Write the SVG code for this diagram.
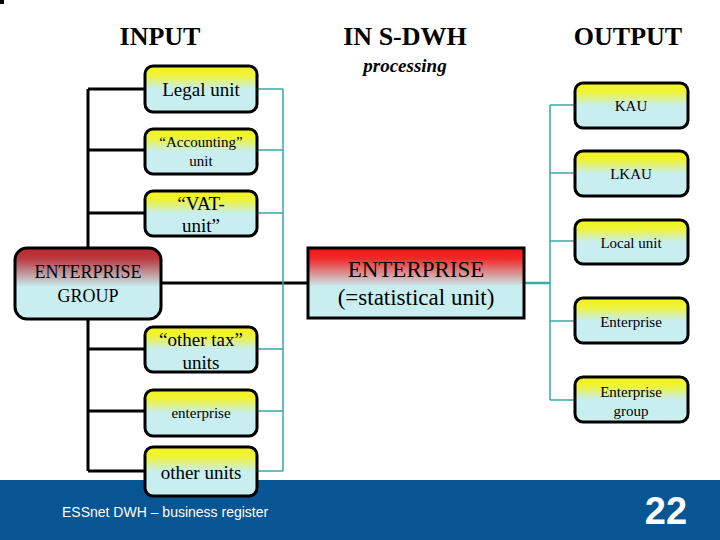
<svg xmlns="http://www.w3.org/2000/svg" width="720" height="540" viewBox="0 0 720 540">
<defs>
<linearGradient id="yg" x1="0" y1="0" x2="0" y2="1"><stop offset="0" stop-color="#f4f418"/><stop offset="0.2" stop-color="#eef33a"/><stop offset="0.5" stop-color="#c8eef0"/><stop offset="1" stop-color="#c8eef0"/></linearGradient>
<linearGradient id="rg" x1="0" y1="0" x2="0" y2="1"><stop offset="0" stop-color="#c0282c"/><stop offset="0.15" stop-color="#b83a40"/><stop offset="0.55" stop-color="#c8eef0"/><stop offset="1" stop-color="#c8eef0"/></linearGradient>
<linearGradient id="rg2" x1="0" y1="0" x2="0" y2="1"><stop offset="0" stop-color="#f41818"/><stop offset="0.15" stop-color="#f02828"/><stop offset="0.55" stop-color="#c8eef0"/><stop offset="1" stop-color="#c8eef0"/></linearGradient>
</defs>
<style>
.b{fill:url(#yg);stroke:#000;stroke-width:3}
.t{fill:#000;text-anchor:middle}
.h{font-size:26px;text-anchor:middle;font-weight:bold}
.k{stroke:#000;stroke-width:3;fill:none}
.c{stroke:#3aa8a8;stroke-width:1.5;fill:none}
</style>
<rect width="720" height="540" fill="#fff"/>
<rect x="0" y="0" width="4" height="4" fill="#000"/>
<rect x="0" y="480" width="720" height="60" fill="#075592"/>
<text x="62" y="517" font-family="Liberation Sans,sans-serif" font-size="14" fill="#fff">ESSnet DWH – business register</text>
<text x="666" y="524" font-family="Liberation Sans,sans-serif" font-size="38" font-weight="bold" fill="#fff" text-anchor="middle">22</text>
<g font-family="Liberation Serif, serif">
<text class="h" x="160" y="45">INPUT</text>
<text class="h" x="405" y="45">IN S-DWH</text>
<text class="h" x="628" y="45">OUTPUT</text>
<text class="t" x="405" y="72" font-size="19" font-style="italic" font-weight="bold">processing</text>
<g id="connectors">
<path class="k" d="M88 89V471M88 89H145M88 150H145M88 213H145M88 349H145M88 411H145M88 471H145M161 283H308"/>
<path class="c" d="M258 89H283M258 150H283M258 213H283M258 349H283M258 411H283M258 471H283M283 89V471"/>
<path class="c" d="M550 105V400M550 105H575M550 173H575M550 241H575M550 321H575M550 400H575"/>
<path d="M524 283H550" stroke="#3aa8a8" stroke-width="2.5"/>
</g>
<g id="legal"><rect class="b" x="145" y="66" width="112" height="46" rx="8"/><text class="t" x="201" y="96" font-size="19">Legal unit</text></g>
<g id="accounting"><rect class="b" x="145" y="129" width="112" height="45" rx="8"/><text class="t" x="201" y="147" font-size="15">“Accounting”</text><text class="t" x="201" y="166" font-size="15">unit</text></g>
<g id="vat"><rect class="b" x="145" y="191" width="112" height="45" rx="8"/><text class="t" x="201" y="210" font-size="19">“VAT-</text><text class="t" x="201" y="232" font-size="19">unit”</text></g>
<g id="eg"><rect x="15" y="248" width="146" height="71" rx="12" fill="url(#rg)" stroke="#000" stroke-width="3"/><text class="t" x="88" y="278" font-size="18">ENTERPRISE</text><text class="t" x="88" y="302" font-size="18">GROUP</text></g>
<g id="othertax"><rect class="b" x="145" y="327" width="112" height="45" rx="8"/><text class="t" x="201" y="346" font-size="19">“other tax”</text><text class="t" x="201" y="369" font-size="19">units</text></g>
<g id="enterprise-in"><rect class="b" x="145" y="390" width="112" height="46" rx="8"/><text class="t" x="201" y="418" font-size="15">enterprise</text></g>
<g id="otherunits"><rect class="b" x="145" y="447" width="112" height="49" rx="8"/><text class="t" x="201" y="479" font-size="19">other units</text></g>
<g id="ent"><rect x="308" y="248" width="216" height="70" fill="url(#rg2)" stroke="#000" stroke-width="3"/><text class="t" x="416" y="277" font-size="23">ENTERPRISE</text><text class="t" x="416" y="305" font-size="23">(=statistical unit)</text></g>
<g id="kau"><rect class="b" x="575" y="83" width="113" height="45" rx="8"/><text class="t" x="631" y="111" font-size="15">KAU</text></g>
<g id="lkau"><rect class="b" x="575" y="151" width="113" height="45" rx="8"/><text class="t" x="631" y="179" font-size="15">LKAU</text></g>
<g id="local"><rect class="b" x="575" y="220" width="113" height="44" rx="8"/><text class="t" x="631" y="248" font-size="15">Local unit</text></g>
<g id="enterprise-out"><rect class="b" x="575" y="298" width="113" height="45" rx="8"/><text class="t" x="631" y="327" font-size="15">Enterprise</text></g>
<g id="entgroup-out"><rect class="b" x="575" y="377" width="113" height="45" rx="8"/><text class="t" x="631" y="397" font-size="15">Enterprise</text><text class="t" x="631" y="416" font-size="15">group</text></g>
</g>
</svg>
